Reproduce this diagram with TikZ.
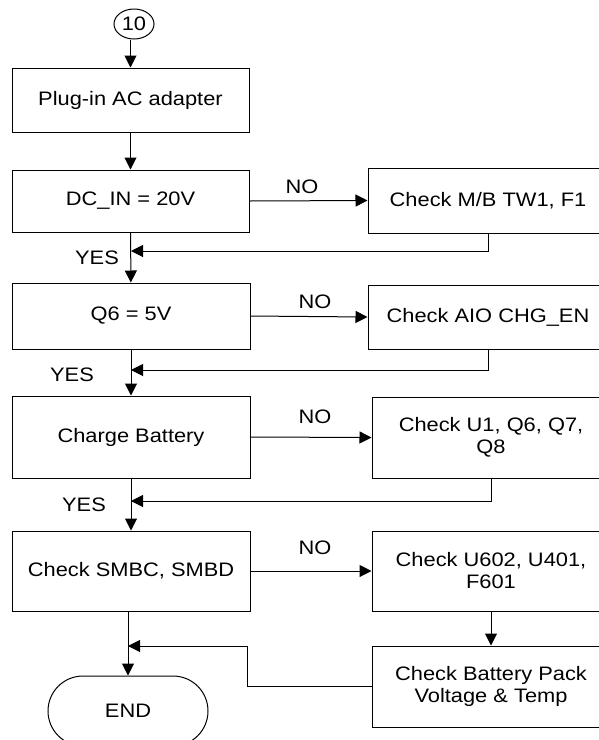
\documentclass[tikz,border=0pt]{standalone}
\usepackage{fontspec}
\setmainfont{Liberation Sans}[FakeStretch=1.12]
\usetikzlibrary{arrows.meta,shapes.geometric,shapes.misc}
\begin{document}
\begin{tikzpicture}[x=1pt,y=-1pt,
  every node/.style={font=\fontsize{19.5}{22}\selectfont, inner sep=0pt},
  box/.style={draw, line width=1pt, rectangle, align=center},
  lbl/.style={},
  conn/.style={line width=1pt},
  arr/.style={line width=1pt, -{Triangle[length=12pt,width=12pt]}}]
\useasboundingbox (0,0) rectangle (599,740);
% nodes
\node[draw, line width=1pt, ellipse, minimum width=40pt, minimum height=30pt] (c10) at (134,24) {10};
\node[box, minimum width=237pt, minimum height=64pt] (b1) at (130.5,100) {Plug-in AC adapter};
\node[box, minimum width=237pt, minimum height=62pt] (b2) at (130.5,201) {DC\_IN = 20V};
\node[box, minimum width=238pt, minimum height=66pt] (b3) at (131,316) {Q6 = 5V};
\node[box, minimum width=238pt, minimum height=82pt] (b4) at (131,437) {Charge Battery};
\node[box, minimum width=238pt, minimum height=80pt] (b5) at (131,571) {Check SMBC, SMBD};
\node[draw, line width=1pt, rounded rectangle, minimum width=160pt, minimum height=70pt] (endn) at (128,711) {END};
\node[box, minimum width=240pt, minimum height=65pt] (r1) at (488,200.5) {Check M/B TW1, F1};
\node[box, minimum width=240pt, minimum height=64pt] (r2) at (488,317) {Check AIO CHG\_EN};
\node[box, minimum width=238pt, minimum height=81pt] (r3) at (491,437.5) {Check U1, Q6, Q7,\\Q8};
\node[box, minimum width=238pt, minimum height=80pt] (r4) at (491,571) {Check U602, U401,\\F601};
\node[box, minimum width=238pt, minimum height=81pt] (r5) at (491,686.5) {Check Battery Pack\\Voltage \& Temp};
% labels
\node[lbl] (no1) at (302,187) {NO};
\node[lbl] (no2) at (315,302) {NO};
\node[lbl] (no3) at (315,417) {NO};
\node[lbl] (no4) at (315,548) {NO};
\node[lbl] (yes1) at (97,258) {YES};
\node[lbl] (yes2) at (72,375) {YES};
\node[lbl] (yes3) at (84,505) {YES};
% junction coordinates
\coordinate (j1) at (131,251);
\coordinate (j2) at (131,370);
\coordinate (j3) at (131,501);
\coordinate (j5) at (128,646);
\coordinate (k5) at (247,646);
% main flow
\draw[arr] (c10.south -| b1.north) -- (b1.north);
\draw[arr] (b1) -- (b2);
\draw[arr] (b2) -- (b3);
\draw[arr] (b3) -- (b4);
\draw[arr] (b4) -- (b5);
\draw[arr] (b5.south -| endn.north) -- (endn.north);
% NO branches
\draw[arr] (b2.east) -- (r1.west);
\draw[arr] (b3.east) -- (r2.west);
\draw[arr] (b4.east) -- (r3.west);
\draw[arr] (b5.east) -- (r4.west);
\draw[arr] (r4) -- (r5);
% returns
\draw[arr] (r1.south) |- (j1);
\draw[arr] (r2.south) |- (j2);
\draw[arr] (r3.south) |- (j3);
\draw[arr] (r5.west) -| (k5) -- (j5);
\end{tikzpicture}
\end{document}
